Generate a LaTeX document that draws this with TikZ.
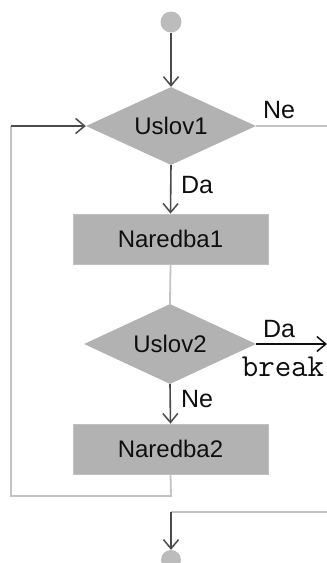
\documentclass[tikz,border=0pt]{standalone}
\usepackage{fontspec}
\setmainfont{Liberation Sans}
\usetikzlibrary{shapes.geometric,arrows.meta}
\definecolor{boxfill}{RGB}{178,178,178}
\definecolor{dotfill}{RGB}{188,188,188}
\definecolor{darkline}{RGB}{75,75,75}
\definecolor{lightline}{RGB}{195,195,195}
\definecolor{txt}{RGB}{15,15,15}
\begin{document}
\begin{tikzpicture}[x=1pt,y=-1pt,
  every node/.style={text=txt,font=\fontsize{24}{28}\selectfont},
  dot/.style={circle,fill=dotfill,draw=none,minimum size=21pt,inner sep=0pt},
  cond/.style={diamond,fill=boxfill,draw=none,inner sep=0pt,aspect=2.2},
  stmt/.style={rectangle,fill=boxfill,draw=lightline!80!boxfill,line width=0.8pt,minimum width=195pt,minimum height=50pt,inner sep=0pt},
  arr/.style={draw=darkline,line width=1.6pt,-{Straight Barb[length=9pt,width=15pt,line width=1.5pt]}},
  plain/.style={draw=lightline,line width=1.8pt},
  lbl/.style={inner sep=0pt,font=\fontsize{25}{28}\selectfont}]
\useasboundingbox (0,0) rectangle (327,563);

\node[dot] (start) at (171,22) {};
\node[cond,minimum width=170pt,minimum height=78pt] (u1) at (171,126) {Uslov1};
\node[stmt] (n1) at (170.5,239) {Naredba1};
\node[cond,minimum width=172pt,minimum height=80pt] (u2) at (170,344) {Uslov2};
\node[stmt] (n2) at (170.5,449) {Naredba2};
\node[dot,minimum size=20pt] (end) at (171,560) {};

\coordinate (neout) at (327,126);
\coordinate (daout) at (327,344);
\coordinate (lp1) at (171,496);
\coordinate (lp2) at (11,496);
\coordinate (lp3) at (11,126);
\coordinate (b1) at (327,512);
\coordinate (b2) at (171,512);

% connectors
\draw[arr] (start) -- (u1.north);
\draw[plain] (u1.east) -- (neout);
\draw[arr] (u1.south) -- (n1.north);
\draw[plain] (n1.south) -- (u2.north);
\draw[arr,draw=txt] (u2.east) -- (daout);
\draw[arr] (u2.south) -- (n2.north);
\draw[plain] (n2.south) -- (lp1) -- (lp2) -- (lp3);
\draw[arr] (lp3) -- (u1.west);
\draw[plain] (b1) -- (b2);
\draw[arr] (b2) -- (end.north);

% labels
\node[lbl] (ne1) at (279,110) {Ne};
\node[lbl] (da1) at (197,185) {Da};
\node[lbl] (da2) at (279,329) {Da};
\node[inner sep=0pt,font=\ttfamily\fontsize{32}{34}\selectfont] (brk) at (283,367) {break};
\node[lbl] (ne2) at (197,399) {Ne};
\end{tikzpicture}
\end{document}
